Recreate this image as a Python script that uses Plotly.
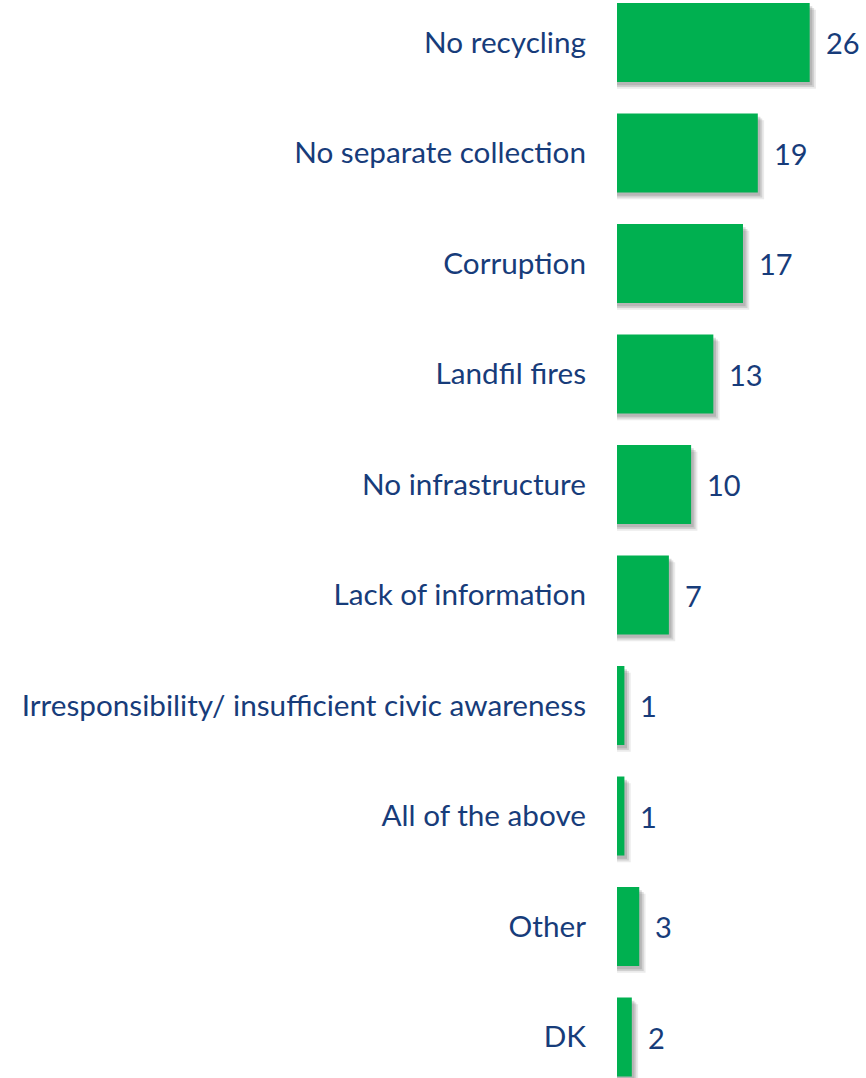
import plotly.graph_objects as go

# Data
categories = [
    "No recycling",
    "No separate collection",
    "Corruption",
    "Landfil fires",
    "No infrastructure",
    "Lack of information",
    "Irresponsibility/ insufficient civic awareness",
    "All of the above",
    "Other",
    "DK",
]
values = [26, 19, 17, 13, 10, 7, 1, 1, 3, 2]

green = "#00B050"
navy = "#173C7A"
font_family = "Lato, 'Open Sans', sans-serif"

idx = list(range(len(categories)))
bar_w = 0.715

fig = go.Figure()

# soft drop shadow behind each bar (layers to fake a blur)
for dx, dy, op in [(0.85, 0.06, 0.12), (0.6, 0.045, 0.18), (0.35, 0.03, 0.22)]:
    fig.add_trace(go.Bar(
        x=[v + dx for v in values],
        y=idx,
        orientation="h",
        width=bar_w,
        offset=-bar_w / 2 + dy,
        marker=dict(color=f"rgba(90,90,90,{op})", line=dict(width=0)),
        hoverinfo="skip",
        showlegend=False,
    ))

fig.add_trace(go.Bar(
    x=values,
    y=idx,
    orientation="h",
    width=bar_w,
    offset=-bar_w / 2,
    marker=dict(color=green, line=dict(width=0)),
    hovertemplate="%{customdata}: %{x}<extra></extra>",
    customdata=categories,
    showlegend=False,
))

# value labels to the right of each bar
for i, v in zip(idx, values):
    fig.add_annotation(
        x=v, y=i, text=str(v), showarrow=False,
        xanchor="left", xshift=14,
        font=dict(family=font_family, size=29, color=navy),
    )

fig.update_layout(
    width=866,
    height=1078,
    margin=dict(l=617, r=0, t=0, b=0),
    paper_bgcolor="white",
    plot_bgcolor="white",
    barmode="overlay",
    font=dict(family=font_family, color=navy),
)

fig.update_xaxes(range=[0, 33.6], visible=False)
fig.update_yaxes(
    range=[9.371, -0.385],
    tickmode="array",
    tickvals=idx,
    ticktext=categories,
    tickfont=dict(family=font_family, size=29.7, color=navy),
    ticklabelstandoff=30,
    showgrid=False,
    zeroline=False,
    showline=False,
)

fig.write_html(
    "out.html",
    config={"displayModeBar": False},
    post_script="document.body.style.margin='0';",
)
